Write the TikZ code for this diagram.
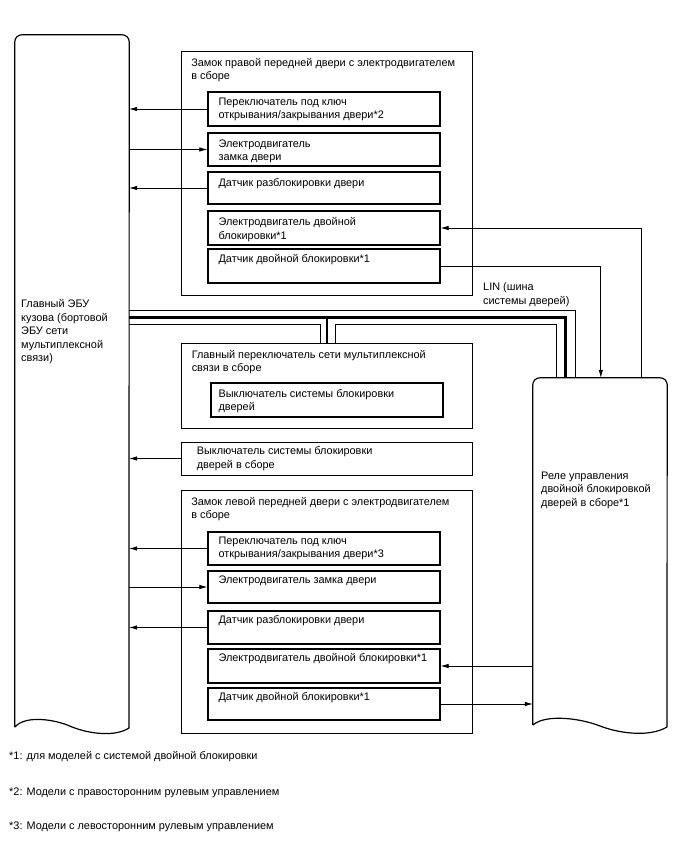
\documentclass[tikz,border=0pt]{standalone}
\usepackage{fontspec}
\setmainfont{Liberation Sans}
\usetikzlibrary{arrows.meta}
\usetikzlibrary{positioning}
\usetikzlibrary{calc}

\tikzset{
  outerbox/.style={rectangle, draw=black, line width=0.9pt, minimum width=291pt, inner sep=0pt},
  innerbox/.style={rectangle, draw=black, line width=1.3pt, minimum width=232pt, inner sep=0pt},
  boxtext/.style={anchor=north west, inner sep=0pt, align=left, font=\fontsize{10.9}{13.5}\selectfont},
  arr/.style={-{Latex[length=8pt,width=4.5pt]}, line width=0.7pt},
  busthin/.style={line width=0.9pt},
  busthick/.style={line width=2.8pt},
}

\begin{document}
\begin{tikzpicture}[x=1pt,y=-1pt]
    \useasboundingbox (0,0) rectangle (688,852);

    % body ECU and relay (outlines drawn by hand)
    \node[minimum width=114pt, minimum height=692pt, inner sep=0pt] (ecu) at (72,381) {};
    \node[minimum width=134pt, minimum height=347pt, inner sep=0pt] (relay) at (600,551.5) {};
    \draw[line width=1.2pt, line join=round] (ecu.south west) [rounded corners=7pt] -- (ecu.north west) -- (ecu.north east) [sharp corners] -- (129,728)
        .. controls (115,737) and (90,734) .. (72,727) .. controls (55,719) and (25,715) .. (15,727);
    \draw[line width=1.2pt, line join=round] (relay.south west) [rounded corners=7pt] -- (relay.north west) -- (relay.north east) [sharp corners] -- (667,727)
        .. controls (650,737) and (621,734) .. (600,726) .. controls (580,718) and (545,714) .. (533,725);
    \node[boxtext] (ecutxt) at (21,299.5) {Главный ЭБУ\\кузова (бортовой\\ЭБУ сети\\мультиплексной\\связи)};
    \node[boxtext] (relaytxt) at (541,471.5) {Реле управления\\двойной блокировкой\\дверей в сборе*1};

    % right front door
    \node[outerbox, minimum height=244pt] (rfdoor) at (327,173) {};
    \node[boxtext] (rfdoortxt) at ([shift={(10,7.5)}]rfdoor.north west) {Замок правой передней двери с электродвигателем\\в сборе};
    \node[innerbox, minimum height=34pt] (rf1) at (324,109) {};
    \node[innerbox, minimum height=33pt] (rf2) at (324,149.5) {};
    \node[innerbox, minimum height=32pt] (rf3) at (324,188) {};
    \node[innerbox, minimum height=34pt] (rf4) at (324,228) {};
    \node[innerbox, minimum height=34pt] (rf5) at (324,266) {};
    \node[boxtext] (rf1txt) at ([shift={(11,6)}]rf1.north west) {Переключатель под ключ\\открывания/закрывания двери*2};
    \node[boxtext] (rf2txt) at ([shift={(11,7)}]rf2.north west) {Электродвигатель\\замка двери};
    \node[boxtext] (rf3txt) at ([shift={(11,7)}]rf3.north west) {Датчик разблокировки двери};
    \node[boxtext] (rf4txt) at ([shift={(11,7)}]rf4.north west) {Электродвигатель двойной\\блокировки*1};
    \node[boxtext] (rf5txt) at ([shift={(11,6)}]rf5.north west) {Датчик двойной блокировки*1};

    % multiplex network switch
    \node[outerbox, minimum height=85pt] (mux) at (327,385.5) {};
    \node[boxtext] (muxtxt) at ([shift={(10.5,7.5)}]mux.north west) {Главный переключатель сети мультиплексной\\связи в сборе};
    \node[innerbox, minimum height=34pt] (muxsw) at (327,400) {};
    \node[boxtext] (muxswtxt) at ([shift={(8,6.5)}]muxsw.north west) {Выключатель системы блокировки\\дверей};

    % door lock switch
    \node[outerbox, minimum height=33pt] (dls) at (327,458.5) {};
    \node[boxtext] (dlstxt) at ([shift={(15.5,5)}]dls.north west) {Выключатель системы блокировки\\дверей в сборе};

    % left front door
    \node[outerbox, minimum height=243pt] (lfdoor) at (327,611.5) {};
    \node[boxtext] (lfdoortxt) at ([shift={(10,7.5)}]lfdoor.north west) {Замок левой передней двери с электродвигателем\\в сборе};
    \node[innerbox, minimum height=33pt] (lf1) at (324,548.5) {};
    \node[innerbox, minimum height=32pt] (lf2) at (324,587) {};
    \node[innerbox, minimum height=33pt] (lf3) at (324,627.5) {};
    \node[innerbox, minimum height=34pt] (lf4) at (324,666) {};
    \node[innerbox, minimum height=32pt] (lf5) at (324,704) {};
    \node[boxtext] (lf1txt) at ([shift={(11,5)}]lf1.north west) {Переключатель под ключ\\открывания/закрывания двери*3};
    \node[boxtext] (lf2txt) at ([shift={(11,5)}]lf2.north west) {Электродвигатель замка двери};
    \node[boxtext] (lf3txt) at ([shift={(11,5)}]lf3.north west) {Датчик разблокировки двери};
    \node[boxtext] (lf4txt) at ([shift={(11,5)}]lf4.north west) {Электродвигатель двойной блокировки*1};
    \node[boxtext] (lf5txt) at ([shift={(11,5)}]lf5.north west) {Датчик двойной блокировки*1};

    % signals to / from the body ECU
    \draw[arr] (rf1.west) -- (rf1.west -| ecu.east);
    \draw[arr] (rf2.west -| ecu.east) -- (rf2.west);
    \draw[arr] (rf3.west) -- (rf3.west -| ecu.east);
    \draw[arr] (dls.west) -- (dls.west -| ecu.east);
    \draw[arr] (lf1.west) -- (lf1.west -| ecu.east);
    \draw[arr] (lf2.west -| ecu.east) -- (lf2.west);
    \draw[arr] (lf3.west) -- (lf3.west -| ecu.east);

    % signals to / from the relay
    \draw[arr] ([xshift=-26pt]relay.north east) |- (rf4.east);
    \draw[arr] (rf5.east) -| ([xshift=68pt]relay.north west);
    \draw[arr] (relay.west |- lf4.east) -- (lf4.east);
    \draw[arr] (lf5.east) -- (lf5.east -| relay.west);

    % LIN bus
    \coordinate (bus1) at ([yshift=32pt]mux.north);
    \coordinate (bus2) at ([yshift=25pt]mux.north);
    \coordinate (bus3) at ([yshift=18pt]mux.north);
    \coordinate (r1) at ([xshift=43pt]relay.north west);
    \coordinate (r2) at ([xshift=33pt]relay.north west);
    \coordinate (r3) at ([xshift=24pt]relay.north west);
    \draw[busthin] (bus1 -| ecu.east) -| (r1);
    \draw[busthick] (bus2 -| ecu.east) -| (r2);
    \draw[busthick] (bus2) -- (mux.north);
    \draw[busthin] (bus3 -| ecu.east) -| ([xshift=-7pt]mux.north);
    \draw[busthin] ([xshift=8pt]mux.north) -- ([xshift=8pt]bus3) -| (r3);
    \node[boxtext] (lintxt) at (483,282.5) {LIN (шина\\системы дверей)};

    % notes
    \node[boxtext] (note1) at (9,751.5) {*1: для моделей с системой двойной блокировки};
    \node[boxtext] (note2) at (9,787.5) {*2: Модели с правосторонним рулевым управлением};
    \node[boxtext] (note3) at (9,821.5) {*3: Модели с левосторонним рулевым управлением};
\end{tikzpicture}
\end{document}
